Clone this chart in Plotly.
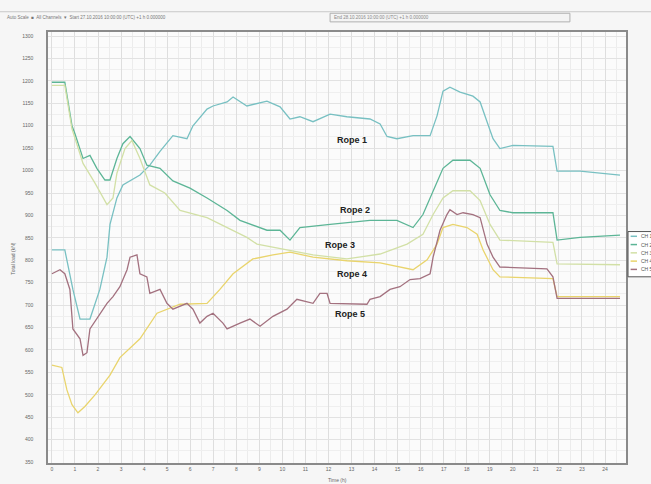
import plotly.graph_objects as go

# Rope load records over one day (time in hours, load in kN)
rope1_t = [0, 0.56, 0.91, 1.22, 1.65, 2.08, 2.39, 2.52, 2.82, 3.08, 3.82, 4.25, 4.69, 5.25, 5.86, 6.12,
           6.73, 6.99, 7.6, 7.86, 8.46, 9.33, 9.9, 10.33, 10.76, 11.33, 12.07, 12.8, 13.8, 14.24, 14.54,
           14.97, 15.67, 16.41, 16.71, 16.97, 17.27, 17.71, 18.27, 18.58, 18.88, 19.14, 19.44, 20.0,
           21.74, 21.92, 22.92, 24.65]
rope1_v = [823, 823, 735, 669, 669, 735, 807, 880, 939, 968, 990, 1012, 1043, 1078, 1071, 1100,
           1137, 1144, 1153, 1164, 1144, 1155, 1142, 1115, 1120, 1109, 1126, 1120, 1115, 1104, 1076,
           1071, 1078, 1078, 1122, 1177, 1186, 1175, 1166, 1153, 1109, 1071, 1049, 1056,
           1054, 999, 999, 990]

rope2_t = [0, 0.56, 0.87, 1.0, 1.35, 1.65, 1.95, 2.3, 2.52, 2.82, 3.08, 3.39, 3.82, 4.12, 4.69, 5.25,
           5.99, 6.73, 7.6, 8.16, 9.33, 9.9, 10.33, 10.76, 12.07, 13.8, 14.97, 15.67, 16.1, 16.54,
           16.97, 17.4, 18.14, 18.58, 19.01, 19.44, 20.0, 21.74, 21.92, 22.92, 24.65]
rope2_v = [1197, 1197, 1100, 1082, 1027, 1034, 1005, 979, 979, 1027, 1060, 1076, 1049, 1012, 1005, 977,
           961, 939, 911, 889, 867, 867, 845, 873, 880, 889, 889, 873, 902, 955,
           1005, 1023, 1023, 1005, 946, 911, 906, 906, 845, 851, 856]

rope3_t = [0, 0.56, 0.87, 1.35, 1.87, 2.39, 2.65, 2.82, 3.17, 3.47, 3.82, 4.25, 4.9, 5.56, 6.73, 7.6,
           8.46, 8.9, 9.59, 10.33, 11.33, 12.8, 14.24, 15.41, 16.1, 16.54, 16.97, 17.4, 18.14, 18.58,
           19.01, 19.44, 21.74, 21.92, 24.65]
rope3_v = [1190, 1190, 1093, 1016, 972, 924, 939, 994, 1049, 1067, 1027, 968, 950, 911, 895, 873,
           851, 836, 829, 823, 812, 803, 814, 836, 858, 902, 939, 955, 955, 933,
           880, 845, 840, 792, 790]

rope4_t = [0, 0.43, 0.65, 0.87, 1.13, 1.43, 1.87, 2.52, 2.95, 3.82, 4.56, 4.99, 5.56, 6.73, 7.29, 7.86,
           8.72, 9.59, 10.33, 11.33, 12.8, 14.24, 15.1, 15.67, 16.28, 16.71, 16.97, 17.4, 18.01, 18.45,
           18.71, 19.14, 19.44, 21.74, 21.92, 22.92, 24.65]
rope4_v = [566, 561, 511, 478, 460, 474, 500, 544, 583, 625, 682, 691, 702, 704, 735, 770,
           803, 812, 818, 807, 799, 794, 785, 779, 801, 836, 873, 880, 873, 858,
           823, 779, 763, 759, 719, 719, 719]

rope5_t = [0, 0.35, 0.56, 0.78, 0.91, 1.22, 1.35, 1.52, 1.65, 1.95, 2.39, 2.65, 2.95, 3.26, 3.39, 3.69,
           3.82, 4.12, 4.25, 4.69, 4.99, 5.25, 5.86, 6.12, 6.42, 6.73, 6.99, 7.42, 7.6, 8.16, 8.59,
           9.03, 9.59, 10.2, 10.63, 11.33, 11.63, 11.94, 12.07, 13.67, 13.8, 14.24, 14.67, 15.1,
           15.54, 15.97, 16.41, 16.54, 16.84, 17.14, 17.27, 17.58, 17.84, 18.27, 18.58, 18.88, 19.14,
           19.44, 21.48, 21.74, 21.92, 24.65]
rope5_v = [770, 779, 770, 735, 647, 625, 588, 594, 647, 669, 704, 719, 741, 779, 807, 812,
           770, 763, 726, 735, 704, 691, 704, 691, 660, 675, 682, 660, 647, 660, 669,
           653, 675, 691, 713, 704, 726, 726, 704, 702, 713, 719, 735, 741,
           757, 759, 770, 807, 867, 902, 913, 902, 906, 902, 895, 836, 807,
           785, 781, 763, 715, 715]

channel_names = ["CH 1", "CH 2", "CH 3", "CH 4", "CH 5"]
rope_names = ["Rope 1", "Rope 2", "Rope 3", "Rope 4", "Rope 5"]
rope_colors = ["#78c0c2", "#5cb596", "#d2e0a6", "#e9d46c", "#a3717f"]

# Rope name tags placed next to their curves (hour, kN)
tag_t = [13.02, 13.15, 12.5, 13.02, 12.93]
tag_v = [1069, 913, 834, 770, 680]

x_ticks = list(range(0, 25))
y_ticks = list(range(350, 1301, 50))

series = [(rope1_t, rope1_v), (rope2_t, rope2_v), (rope3_t, rope3_v),
          (rope4_t, rope4_v), (rope5_t, rope5_v)]

fig = go.Figure()
for (t, v), name, color in zip(series, channel_names, rope_colors):
    fig.add_trace(go.Scatter(x=t, y=v, mode="lines", name=name,
                             line=dict(color=color, width=1.3), showlegend=False))

for name, t, v in zip(rope_names, tag_t, tag_v):
    fig.add_annotation(x=t, y=v, text="<b>%s</b>" % name, showarrow=False,
                       font=dict(family="Liberation Sans, Arial", size=9, color="#222222"))

# Compact channel legend at the right edge
leg_top, leg_step = 0.526, 0.0192
fig.add_shape(type="rect", xref="paper", yref="paper", x0=1.0035, x1=1.06,
              y0=0.432, y1=0.537, line=dict(color="#555555", width=1),
              fillcolor="#ffffff", layer="above")
for i, (name, color) in enumerate(zip(channel_names, rope_colors)):
    yy = leg_top - i * leg_step
    fig.add_shape(type="line", xref="paper", yref="paper", x0=1.008, x1=1.019,
                  y0=yy, y1=yy, line=dict(color=color, width=1.5), layer="above")
    fig.add_annotation(xref="paper", yref="paper", x=1.022, y=yy, text=name,
                       showarrow=False, xanchor="left", yanchor="middle",
                       font=dict(size=5, color="#555555"))

# Toolbar strip above the plot
fig.add_shape(type="line", xref="paper", yref="paper", x0=-0.09, x1=1.1,
              y0=1.047, y1=1.047, line=dict(color="#c8c8c8", width=1))
fig.add_shape(type="rect", xref="paper", yref="paper", x0=0.488, x1=0.903,
              y0=1.0235, y1=1.0435, line=dict(color="#b0b0b0", width=1),
              fillcolor="#f4f4f4")
fig.add_annotation(xref="paper", yref="paper", x=-0.074, y=1.034, xanchor="left",
                   yanchor="middle", showarrow=False,
                   text="Auto Scale  \u25a0  All Channels  \u25be  Start 27.10.2016 10:00:00 (UTC) +1 h 0.000000",
                   font=dict(size=4.5, color="#777777"))
fig.add_annotation(xref="paper", yref="paper", x=0.492, y=1.034, xanchor="left",
                   yanchor="middle", showarrow=False,
                   text="End 28.10.2016 10:00:00 (UTC) +1 h 0.000000",
                   font=dict(size=4.5, color="#888888"))

# Axis titles
fig.add_annotation(xref="paper", yref="paper", x=-0.069, y=0.474, textangle=-90,
                   showarrow=False, text="Total load (kN)",
                   font=dict(size=5, color="#666666"))
fig.add_annotation(xref="paper", yref="paper", x=0.5, y=-0.027, yanchor="top",
                   showarrow=False, text="Time (h)",
                   font=dict(size=5, color="#666666"))

fig.update_xaxes(range=[-0.17, 24.91], tickvals=x_ticks, ticktext=[str(v) for v in x_ticks],
                 showgrid=True, gridcolor="#dedede", gridwidth=1,
                 minor=dict(dtick=0.5, tick0=0, showgrid=True, gridcolor="#ececec"),
                 showline=True, linecolor="#8a8a8a", linewidth=1.5, mirror=True,
                 zeroline=False, ticks="", tickfont=dict(size=5, color="#666666"))
fig.update_yaxes(range=[348, 1309], tickvals=y_ticks, ticktext=[str(v) for v in y_ticks],
                 showgrid=True, gridcolor="#e2e2e2", gridwidth=1,
                 minor=dict(dtick=25, tick0=0, showgrid=True, gridcolor="#efefef"),
                 showline=True, linecolor="#8a8a8a", linewidth=1.5, mirror=True,
                 zeroline=False, ticks="", ticklabelstandoff=12,
                 tickfont=dict(size=5, color="#666666"))

fig.update_layout(width=651, height=484,
                  margin=dict(l=48, r=25, t=32, b=15),
                  paper_bgcolor="#f6f6f6", plot_bgcolor="#fbfbfb",
                  font=dict(family="Liberation Sans, Arial"))

fig.write_html("out.html")
